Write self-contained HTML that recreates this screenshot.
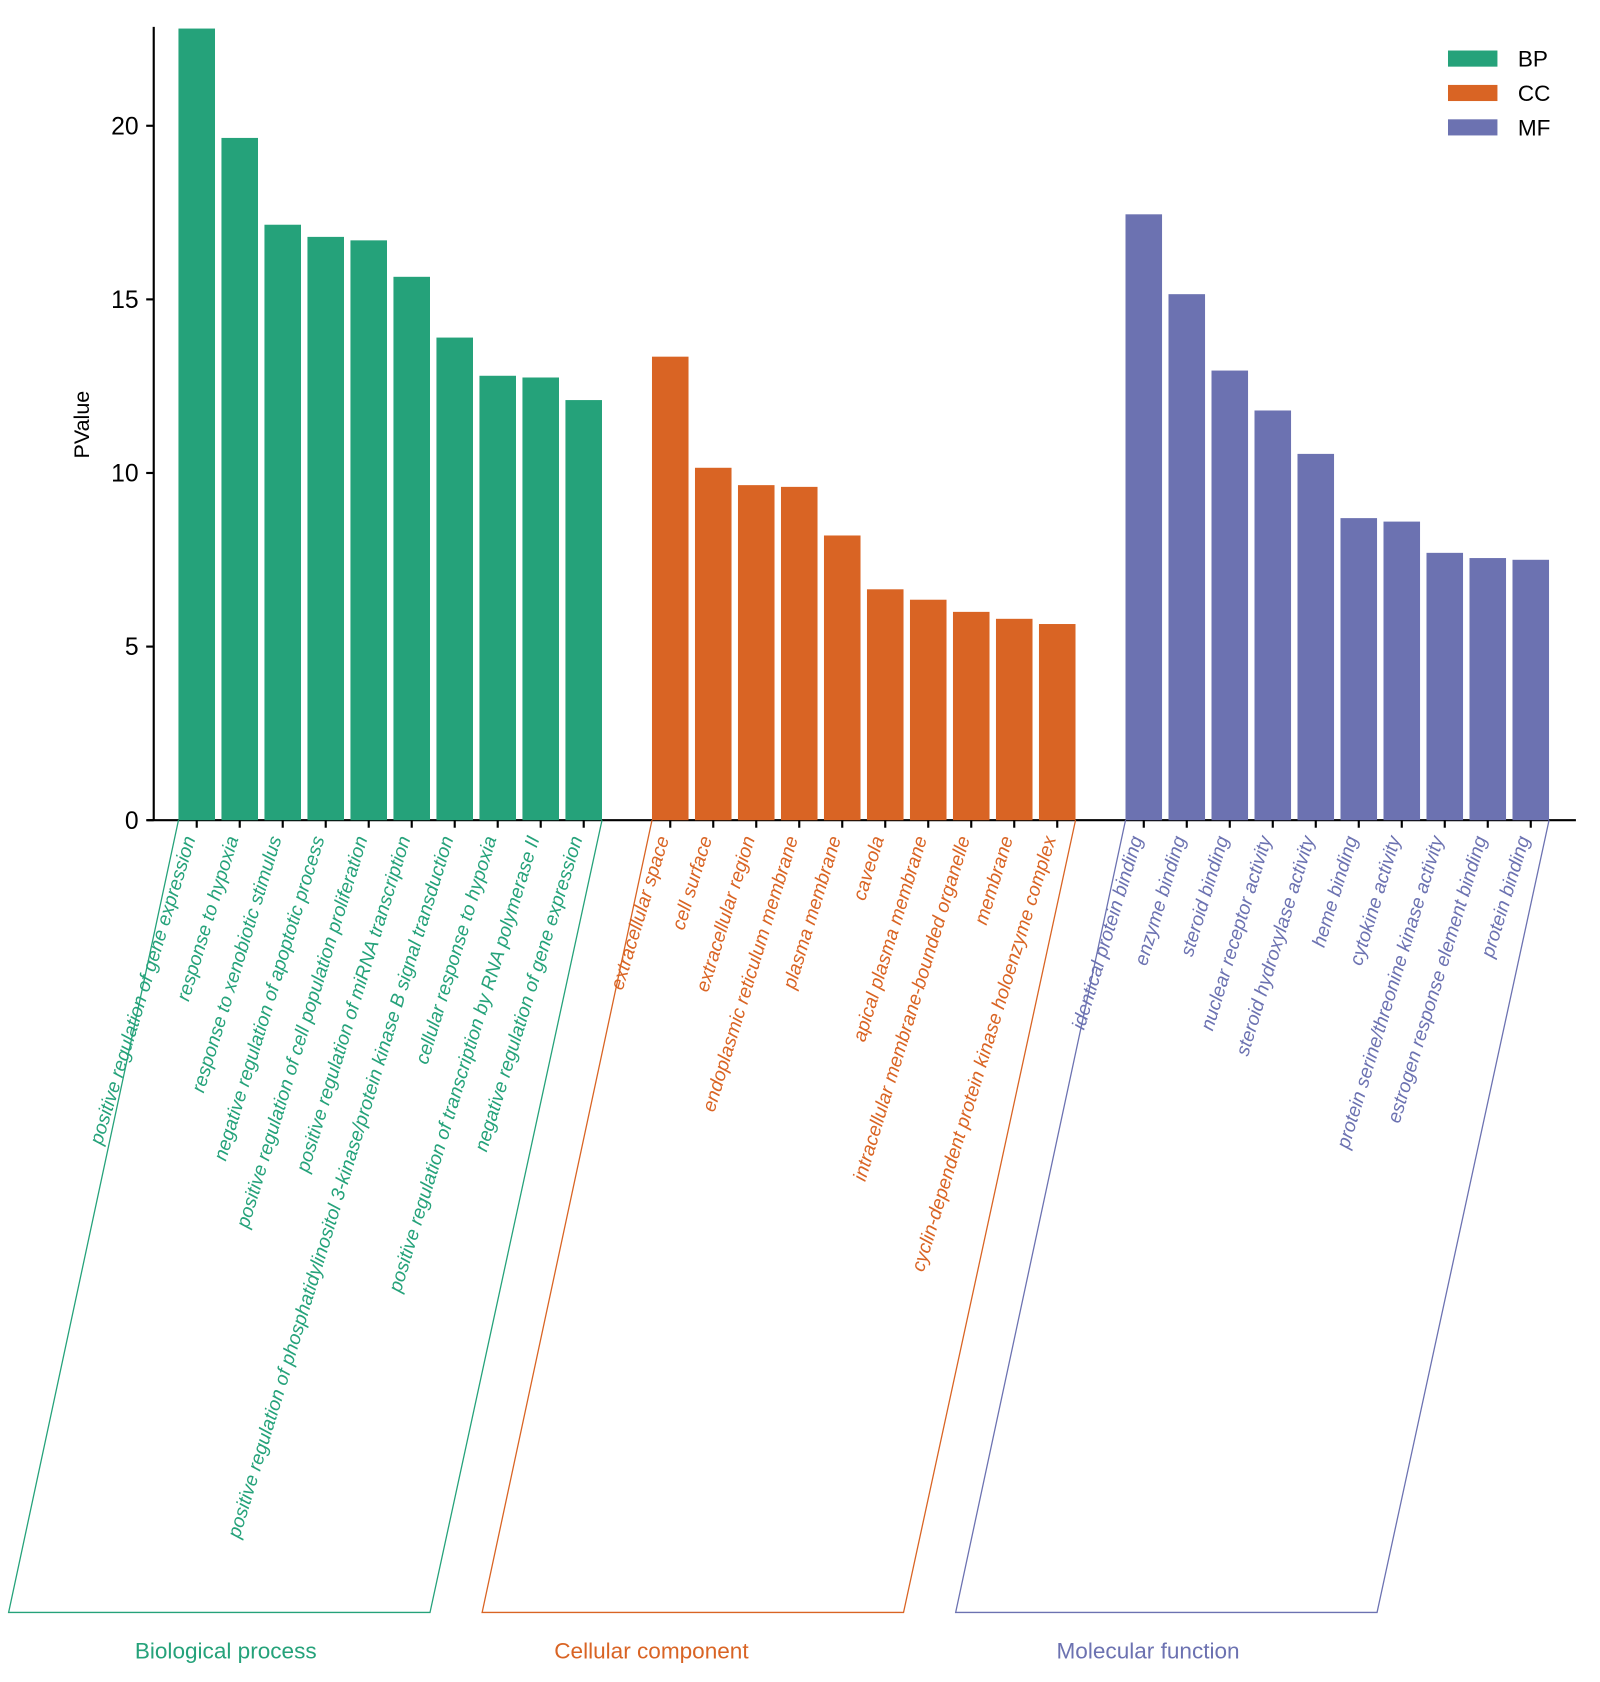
<!DOCTYPE html>
<html><head><meta charset="utf-8"><style>
html,body{margin:0;padding:0;background:#fff;}
svg{display:block;font-family:"Liberation Sans",Arial,sans-serif;}
</style></head><body>
<svg id="chart" width="1600" height="1682" viewBox="0 0 1488.4 1564.7" xmlns="http://www.w3.org/2000/svg">
<g id="plot"></g>
</svg>
<script>
const bpTerms=["positive regulation of gene expression","response to hypoxia","response to xenobiotic stimulus","negative regulation of apoptotic process","positive regulation of cell population proliferation","positive regulation of miRNA transcription","positive regulation of phosphatidylinositol 3-kinase/protein kinase B signal transduction","cellular response to hypoxia","positive regulation of transcription by RNA polymerase II","negative regulation of gene expression"];
const bpValues=[22.8,19.65,17.15,16.8,16.7,15.65,13.9,12.8,12.75,12.1];
const ccTerms=["extracellular space","cell surface","extracellular region","endoplasmic reticulum membrane","plasma membrane","caveola","apical plasma membrane","intracellular membrane-bounded organelle","membrane","cyclin-dependent protein kinase holoenzyme complex"];
const ccValues=[13.35,10.15,9.65,9.6,8.2,6.65,6.35,6.0,5.8,5.65];
const mfTerms=["identical protein binding","enzyme binding","steroid binding","nuclear receptor activity","steroid hydroxylase activity","heme binding","cytokine activity","protein serine/threonine kinase activity","estrogen response element binding","protein binding"];
const mfValues=[17.45,15.15,12.95,11.8,10.55,8.7,8.6,7.7,7.55,7.5];
const yTicks=[0,5,10,15,20];
const groupTitles=["Biological process","Cellular component","Molecular function"];
const legendLabels=["BP","CC","MF"];

const NS="http://www.w3.org/2000/svg";
const g=document.getElementById('plot');
const colors=["#25a27a","#d96424","#6c72b1"];
const titleX=[210,606,1068];
const y0=763, unit=32.3, x0=183, slot=40, groupStep=440.5, bw=34;
function yS(v){return y0-v*unit;}
function xS(gi,i){return x0+gi*groupStep+i*slot;}
function mk(tag,attrs,txt){const e=document.createElementNS(NS,tag);for(const k in attrs)e.setAttribute(k,attrs[k]);if(txt!==undefined)e.textContent=txt;g.appendChild(e);return e;}

let e=mk('line',{x1:143,y1:25,x2:143,y2:y0,stroke:'#000','stroke-width':2});


e=mk('line',{x1:137,y1:y0,x2:1466,y2:y0,stroke:'#000','stroke-width':2});


yTicks.forEach(t=>{
  let l=mk('line',{x1:136,y1:yS(t),x2:143,y2:yS(t),stroke:'#000','stroke-width':2});
  
  
  let tx=mk('text',{x:129,y:yS(t)+8,'text-anchor':'end','font-size':23},String(t));
  
  
});
e=mk('text',{x:0,y:0,transform:'translate(83,395) rotate(-90)','text-anchor':'middle','font-size':20},'PValue');



const groups=[[bpTerms,bpValues],[ccTerms,ccValues],[mfTerms,mfValues]];
groups.forEach((gr,gi)=>{
  const [terms,vals]=gr;const c=colors[gi];
  vals.forEach((v,i)=>{
    const cx=xS(gi,i);
    let r=mk('rect',{x:cx-bw/2,y:yS(v),width:bw,height:y0-yS(v),fill:c});
    
    
    let tk=mk('line',{x1:cx,y1:y0,x2:cx,y2:y0+7,stroke:'#000','stroke-width':2});
    
    
    let t=mk('text',{x:0,y:0,transform:`translate(${cx-1},${y0+17}) rotate(-73)`,'text-anchor':'end','font-size':17.8,'font-style':'italic',fill:c},terms[i]);
    
    
  });
  const left=xS(gi,0)-17, right=xS(gi,9)+17;
  let p=mk('polyline',{points:`${left},${y0} ${left-158},1500 ${right-160},1500 ${right},${y0}`,fill:'none',stroke:c,'stroke-width':1.2});
  
  
  let gt=mk('text',{x:titleX[gi],y:1543,'text-anchor':'middle','font-size':21,fill:c},groupTitles[gi]);
  
  
  let lr=mk('rect',{x:1347,y:47+gi*32,width:46,height:15,fill:c});
  
  
  let lt=mk('text',{x:1412,y:62+gi*32,'font-size':21},legendLabels[gi]);
  
  
});
</script>
</body></html>
